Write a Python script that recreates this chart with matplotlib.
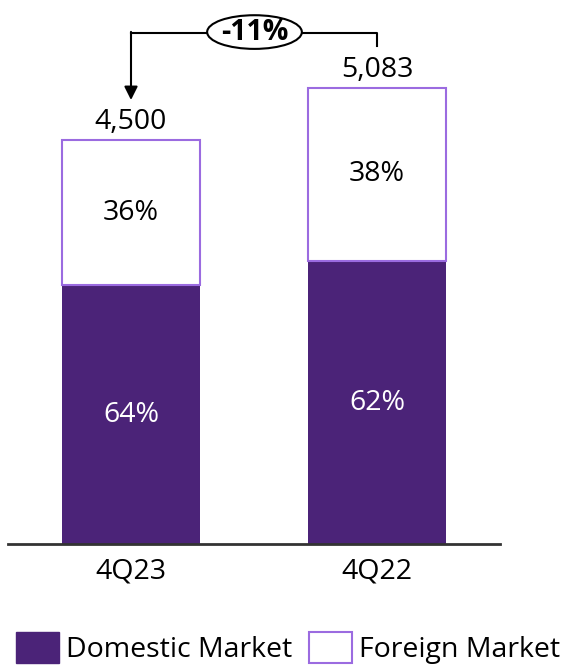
import matplotlib.pyplot as plt
from matplotlib.patches import Ellipse, Patch

plt.rcParams["font.family"] = ["Open Sans", "DejaVu Sans"]

quarters = ["4Q23", "4Q22"]
totals = [4500, 5083]
domestic_pct = [64, 62]
foreign_pct = [36, 38]
change_label = "-11%"

DOMESTIC = "#4B2378"
FOREIGN_EDGE = "#9B6BE0"
FS = 20.5

domestic = [t * p / 100 for t, p in zip(totals, domestic_pct)]
foreign = [t * p / 100 for t, p in zip(totals, foreign_pct)]
x = list(range(len(quarters)))

fig = plt.figure(figsize=(5.62, 6.66), dpi=100)
ax = fig.add_axes([8 / 562, 122 / 666, 492 / 562, 544 / 666])

ax.bar(x, domestic, width=0.557, color=DOMESTIC, edgecolor=DOMESTIC, linewidth=0)
ax.bar(x, foreign, bottom=domestic, width=0.557, color="white",
       edgecolor=FOREIGN_EDGE, linewidth=1.5)

for i in x:
    ax.text(i, domestic[i] / 2, f"{domestic_pct[i]}%", ha="center", va="center",
            color="white", fontsize=FS)
    ax.text(i, domestic[i] + foreign[i] / 2, f"{foreign_pct[i]}%", ha="center",
            va="center", color="black", fontsize=FS)
    ax.annotate(f"{totals[i]:,}", (i, totals[i]), xytext=(0, 11),
                textcoords="offset pixels", ha="center", va="baseline", fontsize=FS)

ax.set_xlim(-0.5, 1.5)
ax.set_ylim(0, 6059)

# bracket with change label
y_line = 5692
ax.plot([0, 1, 1], [y_line, y_line, 5547], color="black", lw=1.5, zorder=3)
ax.annotate("", xy=(0, 4945), xytext=(0, y_line + 12),
            arrowprops=dict(arrowstyle="-|>", color="black", lw=1.5,
                            mutation_scale=20, shrinkA=0, shrinkB=0))
ax.add_patch(Ellipse((0.502, y_line + 10), 0.385, 375, facecolor="white",
                     edgecolor="black", lw=1.5, zorder=4))
ax.text(0.502, y_line + 10, change_label, ha="center", va="center",
        fontsize=FS, fontweight="bold", zorder=5)

ax.set_xticks(x)
ax.set_xticklabels(quarters, fontsize=FS)
ax.tick_params(axis="x", length=0, pad=10)
ax.set_yticks([])
for s in ["top", "left", "right"]:
    ax.spines[s].set_visible(False)
ax.spines["bottom"].set_color("#333333")
ax.spines["bottom"].set_linewidth(2)

handles = [Patch(facecolor=DOMESTIC, edgecolor=DOMESTIC),
           Patch(facecolor="white", edgecolor=FOREIGN_EDGE, linewidth=1.5)]
fig.legend(handles, ["Domestic Market", "Foreign Market"], loc="lower center",
           bbox_to_anchor=(0.513, -0.035), ncol=2, frameon=False, fontsize=FS,
           handlelength=1.5, handleheight=1.3, handletextpad=0.25, columnspacing=0.6)

fig.savefig("out.png", dpi=100)
